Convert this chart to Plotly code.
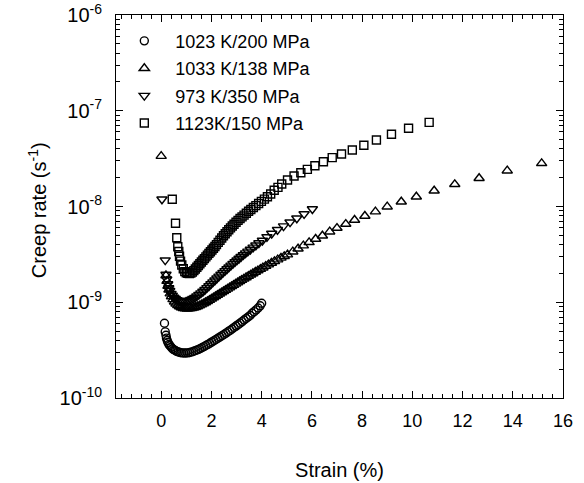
import plotly.graph_objects as go

# 1023 K/200 MPa (circles)
strain_c = [0.13, 0.16, 0.19, 0.21, 0.24, 0.27, 0.31, 0.35, 0.40, 0.45, 0.50, 0.56, 0.62, 0.68, 0.75,
            0.82, 0.90, 0.98, 1.06, 1.14, 1.22, 1.30, 1.38, 1.46, 1.54, 1.62, 1.70, 1.78, 1.86, 1.94,
            2.02, 2.10, 2.18, 2.26, 2.34, 2.42, 2.50, 2.58, 2.66, 2.74, 2.82, 2.90, 2.98, 3.06, 3.14,
            3.22, 3.30, 3.38, 3.46, 3.54, 3.62, 3.70, 3.78, 3.86, 3.94, 4.00]
rate_c = [6.03e-10, 4.90e-10, 4.52e-10, 4.22e-10, 3.98e-10, 3.80e-10, 3.63e-10, 3.51e-10, 3.39e-10,
          3.27e-10, 3.20e-10, 3.13e-10, 3.07e-10, 3.02e-10, 2.99e-10, 2.96e-10, 2.95e-10, 2.95e-10,
          2.96e-10, 2.99e-10, 3.03e-10, 3.08e-10, 3.14e-10, 3.20e-10, 3.27e-10, 3.35e-10, 3.44e-10,
          3.53e-10, 3.63e-10, 3.73e-10, 3.85e-10, 3.96e-10, 4.08e-10, 4.21e-10, 4.34e-10, 4.47e-10,
          4.61e-10, 4.76e-10, 4.92e-10, 5.08e-10, 5.26e-10, 5.45e-10, 5.64e-10, 5.83e-10, 6.05e-10,
          6.28e-10, 6.52e-10, 6.76e-10, 7.01e-10, 7.28e-10, 7.67e-10, 7.98e-10, 8.32e-10, 8.71e-10,
          9.18e-10, 9.77e-10]

# 1033 K/138 MPa (up triangles)
strain_t = [0.00, 0.19, 0.23, 0.27, 0.31, 0.36, 0.41, 0.47, 0.53, 0.59, 0.66, 0.73, 0.80, 0.88, 0.96,
            1.04, 1.12, 1.20, 1.28, 1.36, 1.44, 1.52, 1.60, 1.68, 1.76, 1.84, 1.92, 2.00, 2.08, 2.16,
            2.24, 2.32, 2.40, 2.48, 2.56, 2.64, 2.72, 2.80, 2.88, 2.96, 3.04, 3.12, 3.20, 3.29, 3.38,
            3.47, 3.56, 3.65, 3.75, 3.85, 3.95, 4.05, 4.16, 4.27, 4.39, 4.51, 4.64, 4.77, 4.90, 5.03,
            5.24, 5.45, 5.66, 5.89, 6.15, 6.42, 6.71, 7.00, 7.35, 7.70, 8.11, 8.53, 9.00, 9.56, 10.16,
            10.87, 11.69, 12.66, 13.78, 15.15]
rate_t = [3.36e-8, 1.905e-9, 1.66e-9, 1.479e-9, 1.349e-9, 1.23e-9, 1.148e-9, 1.072e-9, 1.012e-9,
          9.66e-10, 9.29e-10, 9.02e-10, 8.81e-10, 8.67e-10, 8.59e-10, 8.55e-10, 8.57e-10, 8.63e-10,
          8.73e-10, 8.87e-10, 9.04e-10, 9.23e-10, 9.44e-10, 9.68e-10, 9.95e-10, 1.023e-9, 1.054e-9,
          1.086e-9, 1.119e-9, 1.153e-9, 1.189e-9, 1.225e-9, 1.262e-9, 1.30e-9, 1.34e-9, 1.38e-9,
          1.422e-9, 1.466e-9, 1.51e-9, 1.556e-9, 1.603e-9, 1.652e-9, 1.702e-9, 1.758e-9, 1.816e-9,
          1.875e-9, 1.936e-9, 2.0e-9, 2.07e-9, 2.143e-9, 2.218e-9, 2.296e-9, 2.382e-9, 2.472e-9,
          2.57e-9, 2.673e-9, 2.786e-9, 2.904e-9, 3.02e-9, 3.141e-9, 3.373e-9, 3.622e-9, 3.899e-9,
          4.227e-9, 4.581e-9, 4.955e-9, 5.458e-9, 5.957e-9, 6.561e-9, 7.228e-9, 7.962e-9, 8.831e-9,
          9.954e-9, 1.122e-8, 1.265e-8, 1.462e-8, 1.706e-8, 1.972e-8, 2.366e-8, 2.825e-8]

# 973 K/350 MPa (down triangles)
strain_d = [0.03, 0.16, 0.19, 0.22, 0.26, 0.30, 0.34, 0.39, 0.44, 0.50, 0.56, 0.63, 0.70, 0.78, 0.86,
            0.94, 1.02, 1.10, 1.18, 1.26, 1.34, 1.42, 1.50, 1.58, 1.66, 1.74, 1.82, 1.90, 1.98, 2.06,
            2.14, 2.22, 2.30, 2.38, 2.46, 2.54, 2.62, 2.70, 2.78, 2.86, 2.94, 3.02, 3.10, 3.18, 3.27,
            3.36, 3.45, 3.55, 3.66, 3.77, 3.89, 4.03, 4.21, 4.40, 4.63, 4.87, 5.13, 5.40, 5.69, 6.02]
rate_d = [1.19e-8, 2.75e-9, 1.95e-9, 1.74e-9, 1.55e-9, 1.41e-9, 1.32e-9, 1.23e-9, 1.175e-9, 1.12e-9,
          1.086e-9, 1.06e-9, 1.04e-9, 1.028e-9, 1.023e-9, 1.023e-9, 1.03e-9, 1.045e-9, 1.064e-9,
          1.089e-9, 1.117e-9, 1.156e-9, 1.202e-9, 1.245e-9, 1.294e-9, 1.349e-9, 1.413e-9, 1.479e-9,
          1.549e-9, 1.622e-9, 1.698e-9, 1.778e-9, 1.862e-9, 1.95e-9, 2.037e-9, 2.128e-9, 2.223e-9,
          2.323e-9, 2.427e-9, 2.529e-9, 2.636e-9, 2.748e-9, 2.864e-9, 2.985e-9, 3.119e-9, 3.258e-9,
          3.396e-9, 3.556e-9, 3.741e-9, 3.936e-9, 4.15e-9, 4.416e-9, 4.81e-9, 5.224e-9, 5.715e-9,
          6.237e-9, 6.855e-9, 7.534e-9, 8.356e-9, 9.419e-9]

# 1123K/150 MPa (squares)
strain_s = [0.44, 0.57, 0.62, 0.66, 0.70, 0.73, 0.77, 0.82, 0.88, 0.94, 1.00, 1.06, 1.12, 1.18, 1.24,
            1.30, 1.36, 1.42, 1.48, 1.54, 1.60, 1.66, 1.72, 1.78, 1.84, 1.90, 1.96, 2.02, 2.08, 2.14,
            2.20, 2.27, 2.34, 2.41, 2.48, 2.55, 2.62, 2.69, 2.76, 2.83, 2.90, 2.98, 3.06, 3.14, 3.22,
            3.30, 3.39, 3.48, 3.57, 3.67, 3.77, 3.88, 3.99, 4.11, 4.23, 4.36, 4.50, 4.65, 4.80, 5.03,
            5.29, 5.56, 5.82, 6.12, 6.46, 6.81, 7.18, 7.61, 8.07, 8.57, 9.17, 9.85, 10.67]
rate_s = [1.19e-8, 6.68e-9, 4.72e-9, 3.80e-9, 3.39e-9, 3.02e-9, 2.69e-9, 2.45e-9, 2.24e-9, 2.09e-9,
          2.032e-9, 2.004e-9, 1.995e-9, 2.018e-9, 2.065e-9, 2.138e-9, 2.223e-9, 2.323e-9, 2.421e-9,
          2.523e-9, 2.63e-9, 2.742e-9, 2.858e-9, 2.979e-9, 3.105e-9, 3.236e-9, 3.373e-9, 3.516e-9,
          3.664e-9, 3.828e-9, 3.999e-9, 4.217e-9, 4.446e-9, 4.688e-9, 4.943e-9, 5.188e-9, 5.445e-9,
          5.715e-9, 5.984e-9, 6.252e-9, 6.531e-9, 6.839e-9, 7.161e-9, 7.482e-9, 7.798e-9, 8.128e-9,
          8.511e-9, 8.913e-9, 9.311e-9, 9.75e-9, 1.021e-8, 1.074e-8, 1.13e-8, 1.194e-8, 1.262e-8,
          1.349e-8, 1.479e-8, 1.585e-8, 1.718e-8, 1.892e-8, 2.084e-8, 2.254e-8, 2.443e-8, 2.667e-8,
          2.938e-8, 3.236e-8, 3.532e-8, 3.89e-8, 4.355e-8, 4.943e-8, 5.675e-8, 6.561e-8, 7.568e-8]

series_names = ["1023 K/200 MPa", "1033 K/138 MPa", "973 K/350 MPa", "1123K/150 MPa"]
x_tick_vals = [0, 2, 4, 6, 8, 10, 12, 14, 16]
y_tick_vals = [1e-10, 1e-9, 1e-8, 1e-7, 1e-6]
y_tick_text = ["10<sup>-10</sup>", "10<sup>-9</sup>", "10<sup>-8</sup>", "10<sup>-7</sup>", "10<sup>-6</sup>"]

FONT = "Liberation Sans, Arial, Helvetica, sans-serif"

fig = go.Figure()
specs = [
    (strain_c, rate_c, "circle-open", 8),
    (strain_t, rate_t, "triangle-up-open", 9),
    (strain_d, rate_d, "triangle-down-open", 9),
    (strain_s, rate_s, "square-open", 8),
]
for i, ((xs, ys, sym, sz), name) in enumerate(zip(specs, series_names)):
    fig.add_trace(go.Scatter(
        x=xs, y=ys, mode="markers", name=name, legendgroup=f"g{i}",
        marker=dict(symbol=sym, size=sz, color="black", line=dict(color="black", width=1.4)),
    ))

minor_y = [m * 10.0 ** e for e in range(-10, -6) for m in range(2, 10)]

fig.update_layout(
    width=584, height=483,
    margin=dict(l=116, r=21, t=15, b=85, autoexpand=False),
    paper_bgcolor="white", plot_bgcolor="white",
    font=dict(family=FONT, size=18, color="black"),
    showlegend=True,
    legend=dict(
        x=-0.006, y=0.98, xanchor="left", yanchor="top",
        bgcolor="rgba(0,0,0,0)", borderwidth=0,
        font=dict(family=FONT, size=18, color="black"),
        tracegroupgap=1, itemwidth=52,
    ),
    xaxis=dict(
        range=[-1.8, 16], tickmode="array", tickvals=x_tick_vals, automargin=False,
        ticks="inside", ticklen=7, tickwidth=1, tickcolor="black",
        showline=True, linecolor="black", linewidth=1, mirror="allticks",
        showgrid=False, zeroline=False, ticklabeloverflow="allow",
        minor=dict(ticks="inside", ticklen=4, dtick=0.4, tick0=0, tickcolor="black", showgrid=False),
        tickfont=dict(size=18), ticklabelstandoff=6,
        title=dict(text="Strain (%)", font=dict(size=20), standoff=33),
    ),
    yaxis=dict(
        type="log", range=[-10, -6], tickmode="array", tickvals=y_tick_vals, ticktext=y_tick_text,
        automargin=False, ticklabeloverflow="allow",
        ticks="inside", ticklen=7, tickwidth=1, tickcolor="black",
        showline=True, linecolor="black", linewidth=1, mirror="allticks",
        showgrid=False, zeroline=False,
        minor=dict(ticks="inside", ticklen=4, tickvals=minor_y, tickcolor="black", showgrid=False),
        tickfont=dict(size=20), ticklabelstandoff=9,
    ),
    annotations=[dict(
        text="Creep rate (s<sup>-1</sup>)", textangle=-90, showarrow=False,
        xref="paper", yref="paper", x=-0.177, y=0.49, xanchor="center", yanchor="middle",
        font=dict(family=FONT, size=20, color="black"),
    )],
)

# remove the default 8px page margin so the figure sits at the window origin
fig.write_html("out.html", config={"displayModeBar": False},
               post_script="document.body.style.margin='0';")
